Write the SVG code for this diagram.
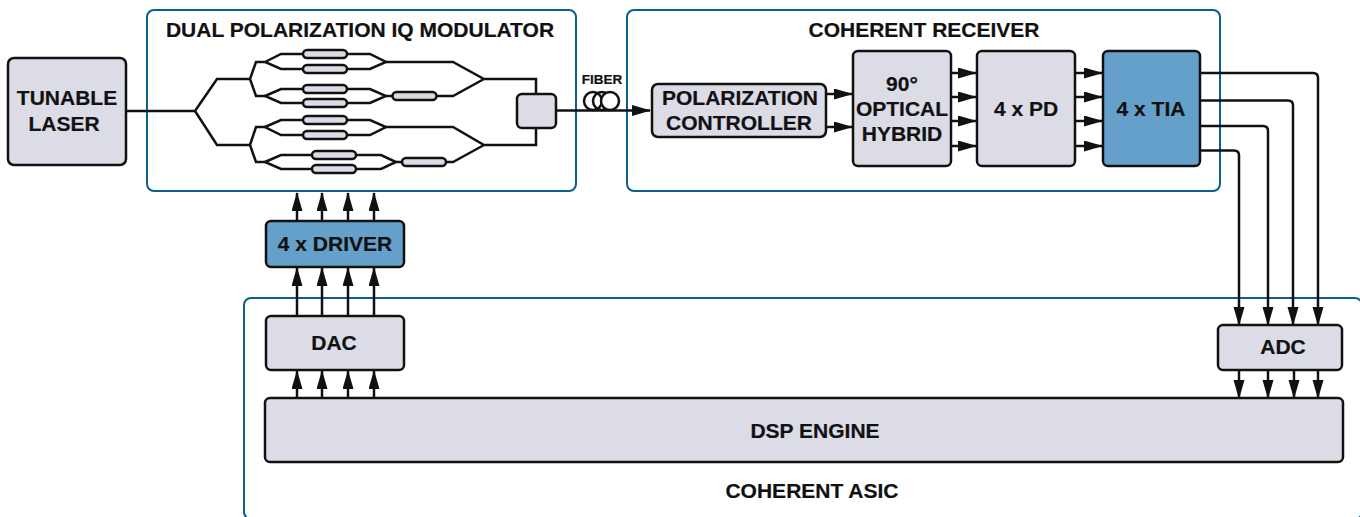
<svg xmlns="http://www.w3.org/2000/svg" width="1360" height="517" viewBox="0 0 1360 517">
<style>
text{font-family:"Liberation Sans",Arial,sans-serif;font-weight:bold;fill:#111;stroke:#111;stroke-width:.2;text-anchor:middle;font-size:21px}
.c{fill:none;stroke:#0a5f8c;stroke-width:2}
.g{fill:#dcdce6;stroke:#111;stroke-width:2.5}
.b{fill:#65a0ca;stroke:#111;stroke-width:2.5}
.l{fill:none;stroke:#111;stroke-width:2.5}
.a{fill:none;stroke:#111;stroke-width:2.5;marker-end:url(#ah)}
.t{fill:#dcdce6;stroke:#111;stroke-width:2.5}
</style>
<defs>
<marker id="ah" markerUnits="userSpaceOnUse" markerWidth="20" markerHeight="12" refX="18" refY="5.500" orient="auto" viewBox="0 0 20 12"><path d="M0,0L19,5.500L0,11Z" fill="#111"/></marker>
</defs>
<g id="containers">
<rect id="modulator-frame" class="c" x="147" y="10" width="429" height="181" rx="7"/>
<rect id="receiver-frame" class="c" x="627" y="10" width="593" height="181" rx="7"/>
<rect id="asic-frame" class="c" x="244" y="298" width="1118" height="221" rx="7"/>
</g>
<g id="connectors">
<path class="l" d="M127,111H195L217,79H250L256,62H265M250,79L256,96H265M195,111L217,145H250L256,127H265M250,145L256,162H265"/>
<path class="l" d="M265,62L281,54H370L386,62L370,69H281Z"/>
<path class="l" d="M265,96L281,89H370L386,96L370,103H281Z"/>
<path class="l" d="M265,127L281,120H370L386,127L370,135H281Z"/>
<path class="l" d="M265,162L281,155H381L396,162L381,169H281Z"/>
<path class="l" d="M386,62H453L484,79H536V94M386,96H453L484,79M386,127H453L484,145H536V127M396,162H453L484,145"/>
<circle class="l" cx="593" cy="101" r="9"/><circle class="l" cx="602" cy="101" r="9"/><circle class="l" cx="610" cy="101" r="9" style="fill:#fff"/>
<path class="a" d="M556,110.500H650"/>
<path class="a" d="M826,94H852"/><path class="a" d="M826,127H852"/>
<path class="a" d="M950,73H976"/><path class="a" d="M950,97H976"/><path class="a" d="M950,121H976"/><path class="a" d="M950,146H976"/>
<path class="a" d="M1075,73H1102"/><path class="a" d="M1075,97H1102"/><path class="a" d="M1075,121H1102"/><path class="a" d="M1075,146H1102"/>
<path class="a" d="M1200,73H1313Q1318,73 1318,78V325"/>
<path class="a" d="M1200,100.500H1288Q1293,100.500 1293,105.500V325"/>
<path class="a" d="M1200,126H1263Q1268,126 1268,131V325"/>
<path class="a" d="M1200,150.500H1234Q1239,150.500 1239,155.500V325"/>
<path class="a" d="M1239,369V398"/><path class="a" d="M1268,369V398"/><path class="a" d="M1294,369V398"/><path class="a" d="M1318,369V398"/>
<path class="a" d="M297,220V193"/><path class="a" d="M322,220V193"/><path class="a" d="M348,220V193"/><path class="a" d="M374,220V193"/>
<path class="a" d="M297,316V268"/><path class="a" d="M322,316V268"/><path class="a" d="M348,316V268"/><path class="a" d="M374,316V268"/>
<path class="a" d="M297,398V371"/><path class="a" d="M322,398V371"/><path class="a" d="M348,398V371"/><path class="a" d="M374,398V371"/>
</g>
<g id="tubes">
<rect class="t" x="303" y="50" width="44" height="8" rx="4"/><rect class="t" x="303" y="65" width="44" height="8" rx="4"/>
<rect class="t" x="303" y="85" width="44" height="8" rx="4"/><rect class="t" x="303" y="99" width="44" height="8" rx="4"/>
<rect class="t" x="303" y="116" width="44" height="8" rx="4"/><rect class="t" x="303" y="131" width="44" height="8" rx="4"/>
<rect class="t" x="312" y="151" width="44" height="8" rx="4"/><rect class="t" x="312" y="165" width="44" height="8" rx="4"/>
<rect class="t" x="392.500" y="92" width="44" height="8" rx="4"/><rect class="t" x="402" y="158" width="44" height="8" rx="4"/>
</g>
<g id="laser"><rect class="g" x="8" y="58" width="118" height="107" rx="6"/><text x="67" y="105">TUNABLE</text><text x="64" y="131">LASER</text></g>
<g id="modulator-label"><text x="360" y="37">DUAL POLARIZATION IQ MODULATOR</text></g>
<g id="combiner"><rect class="g" x="517" y="94" width="39" height="34" rx="5"/></g>
<g id="fiber-label"><text x="602" y="84" style="font-size:13.500px">FIBER</text></g>
<g id="receiver-label"><text x="924" y="37">COHERENT RECEIVER</text></g>
<g id="controller"><rect class="g" x="652" y="84" width="174" height="53" rx="6"/><text x="740" y="105">POLARIZATION</text><text x="739" y="130">CONTROLLER</text></g>
<g id="hybrid"><rect class="g" x="853" y="51" width="98" height="115" rx="5"/><text x="902" y="91">90°</text><text x="902" y="116">OPTICAL</text><text x="902" y="141">HYBRID</text></g>
<g id="pd"><rect class="g" x="977" y="51" width="98" height="115" rx="5"/><text x="1026" y="116">4 x PD</text></g>
<g id="tia"><rect class="b" x="1103" y="51" width="97" height="115" rx="5"/><text x="1151" y="116">4 x TIA</text></g>
<g id="driver"><rect class="b" x="266" y="221" width="138" height="46" rx="5"/><text x="335" y="251">4 x DRIVER</text></g>
<g id="dac"><rect class="g" x="266" y="316" width="138" height="54" rx="5"/><text x="334" y="350">DAC</text></g>
<g id="adc"><rect class="g" x="1218" y="325" width="124" height="45" rx="5"/><text x="1283" y="354">ADC</text></g>
<g id="dsp"><rect class="g" x="265" y="398" width="1078" height="64" rx="5"/><text x="815" y="438">DSP ENGINE</text></g>
<g id="asic-label"><text x="812" y="498">COHERENT ASIC</text></g>
</svg>
